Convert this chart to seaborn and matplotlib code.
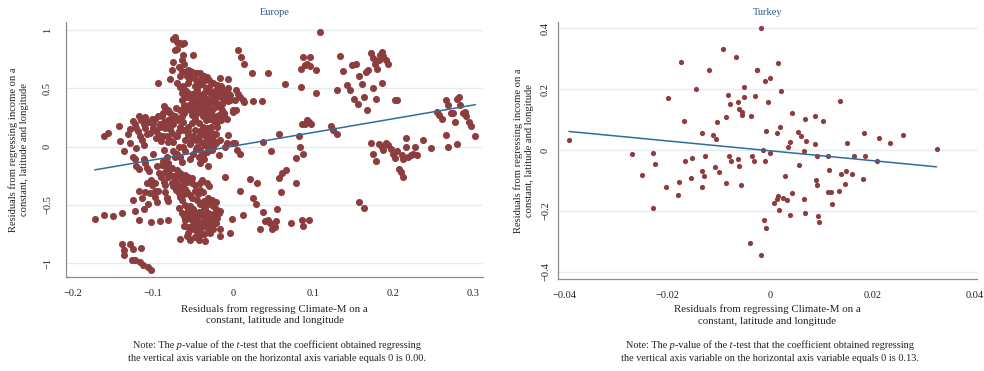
import matplotlib
matplotlib.use("Agg")
import matplotlib.pyplot as plt
from matplotlib.offsetbox import TextArea, HPacker, VPacker, AnchoredOffsetbox
import seaborn as sns
import pandas as pd

# ---------------- data ----------------
panel_titles = ["Europe", "Turkey"]

eu_pts = [
    (-0.173, -0.62), (-0.161, -0.59), (-0.150, -0.60), (-0.139, -0.57),
    (-0.161, 0.09), (-0.157, 0.12), (-0.143, 0.18), (-0.142, 0.05), (-0.136, -0.04),
    (-0.132, 0.11), (-0.129, 0.15),
    (-0.139, -0.84), (-0.137, -0.89), (-0.136, -0.93), (-0.129, -0.84), (-0.125, -0.88),
    (-0.127, -0.97), (-0.123, -0.97), (-0.115, -0.87), (-0.117, -0.99), (-0.113, -1.02),
    (-0.107, -1.03), (-0.103, -1.06),
    (-0.125, -0.46), (-0.123, -0.55), (-0.118, -0.63), (-0.118, -0.38), (-0.114, -0.44),
    (-0.111, -0.54), (-0.110, -0.39), (-0.107, -0.49), (-0.103, -0.65), (-0.098, -0.43),
    (-0.095, -0.48), (-0.092, -0.64), (-0.081, -0.63), (-0.083, -0.44), (-0.098, -0.38),
    (-0.125, 0.22), (-0.123, 0.19), (-0.121, 0.16), (-0.119, 0.13), (-0.116, 0.09),
    (-0.114, 0.06), (-0.118, 0.26), (-0.115, 0.23), (-0.112, 0.19), (-0.110, 0.16),
    (-0.108, 0.11), (-0.110, 0.25), (-0.106, 0.21), (-0.102, 0.24), (-0.100, 0.16),
    (-0.098, 0.24), (-0.092, 0.19), (-0.112, 0.01), (-0.121, -0.01), (-0.129, 0.03),
    (-0.125, -0.09), (-0.123, -0.11), (-0.121, -0.17), (-0.118, -0.19), (-0.112, -0.11),
    (-0.110, -0.14), (-0.108, -0.18), (-0.105, -0.21), (-0.103, -0.29), (-0.101, -0.33),
    (-0.100, -0.06), (-0.095, -0.17), (-0.093, -0.23), (-0.098, -0.31), (-0.094, -0.38),
    (-0.108, -0.31), (-0.104, -0.40),
    (-0.073, 0.94), (-0.075, 0.92), (-0.070, 0.90), (-0.066, 0.89), (-0.062, 0.89),
    (-0.064, 0.88), (-0.070, 0.84), (-0.073, 0.83), (-0.063, 0.79), (-0.050, 0.79),
    (-0.064, 0.74), (-0.075, 0.73), (-0.061, 0.71), (-0.076, 0.66), (-0.064, 0.65),
    (-0.060, 0.64), (-0.057, 0.66), (-0.054, 0.65), (-0.051, 0.64), (-0.048, 0.63),
    (-0.066, 0.61), (-0.079, 0.58), (-0.094, 0.55), (-0.063, 0.52), (-0.048, 0.52),
    (-0.087, 0.35), (-0.085, 0.33), (-0.082, 0.31), (-0.080, 0.30), (-0.088, 0.29),
    (-0.089, 0.26), (-0.092, 0.17), (-0.082, 0.23), (-0.078, 0.23), (-0.075, 0.19),
    (-0.085, 0.16), (-0.088, 0.09), (-0.083, 0.09), (-0.079, 0.06), (-0.081, 0.04),
    (-0.075, 0.04), (-0.070, 0.09), (-0.068, 0.13), (-0.066, 0.17), (-0.063, 0.21),
    (-0.064, 0.26), (-0.061, 0.29), (-0.058, 0.33), (-0.062, 0.36), (-0.064, 0.40),
    (-0.060, 0.43), (-0.060, 0.49),
    (-0.086, -0.03), (-0.083, -0.09), (-0.075, -0.04), (-0.073, -0.09), (-0.070, -0.06),
    (-0.066, -0.09), (-0.064, -0.13), (-0.068, 0.00), (-0.063, 0.00), (-0.060, -0.04),
    (-0.088, -0.12), (-0.089, -0.16), (-0.085, -0.17), (-0.082, -0.14), (-0.082, -0.26),
    (-0.087, -0.30), (-0.085, -0.33), (-0.079, -0.24), (-0.075, -0.25), (-0.073, -0.27),
    (-0.070, -0.24), (-0.066, -0.26), (-0.064, -0.29), (-0.077, -0.31), (-0.075, -0.34),
    (-0.071, -0.37), (-0.068, -0.40), (-0.066, -0.43), (-0.064, -0.46), (-0.062, -0.41),
    (-0.060, -0.36), (-0.058, -0.30), (-0.085, -0.39), (-0.083, -0.44), (-0.082, -0.47),
    (-0.068, -0.53), (-0.064, -0.57), (-0.062, -0.60), (-0.060, -0.63), (-0.058, -0.57),
    (-0.067, -0.79), (-0.056, -0.74), (-0.054, -0.79),
    (-0.016, 0.59), (-0.006, 0.58),
    (-0.056, 0.43), (-0.051, 0.40), (-0.045, 0.41), (-0.042, 0.44), (-0.039, 0.43),
    (-0.036, 0.40), (-0.033, 0.37), (-0.035, 0.34), (-0.031, 0.33), (-0.029, 0.31),
    (-0.058, 0.34), (-0.054, 0.31), (-0.048, 0.31), (-0.043, 0.34), (-0.041, 0.30),
    (-0.038, 0.33), (-0.035, 0.29), (-0.031, 0.27), (-0.027, 0.31), (-0.025, 0.26),
    (-0.022, 0.37), (-0.020, 0.43), (-0.018, 0.47), (-0.016, 0.46), (-0.013, 0.41),
    (-0.010, 0.40), (-0.008, 0.41), (-0.006, 0.39), (-0.004, 0.40), (0.000, 0.31),
    (0.004, 0.31), (-0.017, 0.34), (-0.014, 0.31), (-0.012, 0.29), (-0.018, 0.27),
    (-0.020, 0.26), (-0.008, 0.24), (-0.048, 0.24), (-0.051, 0.20), (-0.043, 0.20),
    (-0.056, 0.17), (-0.038, 0.17), (-0.033, 0.16), (-0.028, 0.17), (-0.020, 0.17),
    (-0.056, 0.10), (-0.050, 0.09), (-0.043, 0.09), (-0.037, 0.10), (-0.033, 0.06),
    (-0.029, 0.09), (-0.025, 0.06), (-0.021, 0.11), (-0.016, 0.06), (-0.006, 0.10),
    (-0.008, 0.03), (0.000, 0.03), (0.002, 0.03), (0.005, -0.03), (0.009, -0.06),
    (-0.010, 0.00), (-0.054, 0.02), (-0.045, 0.00), (-0.041, -0.03), (-0.037, 0.01),
    (-0.031, -0.01), (-0.025, 0.00), (-0.018, -0.07), (-0.050, -0.06), (-0.043, -0.09),
    (-0.054, -0.11), (-0.037, -0.11), (-0.031, -0.17), (-0.041, -0.14), (-0.010, -0.26),
    (0.021, -0.28), (0.030, -0.31),
    (-0.056, -0.29), (-0.051, -0.31), (-0.048, -0.33), (-0.042, -0.31), (-0.039, -0.29),
    (-0.033, -0.31), (-0.030, -0.34), (-0.041, -0.37), (-0.038, -0.39), (-0.051, -0.44),
    (-0.045, -0.46), (-0.041, -0.49), (-0.036, -0.47), (-0.031, -0.44), (-0.027, -0.46),
    (-0.054, -0.51), (-0.050, -0.54), (-0.048, -0.57), (-0.043, -0.56), (-0.039, -0.59),
    (-0.035, -0.54), (-0.031, -0.57), (-0.025, -0.51), (-0.021, -0.54), (-0.018, -0.57),
    (-0.016, -0.55), (-0.056, -0.61), (-0.051, -0.63), (-0.046, -0.64), (-0.042, -0.66),
    (-0.037, -0.63), (-0.033, -0.61), (-0.027, -0.63), (-0.021, -0.66), (-0.017, -0.71),
    (-0.016, -0.77), (-0.057, -0.69), (-0.051, -0.71), (-0.045, -0.73), (-0.041, -0.76),
    (-0.035, -0.81), (-0.031, -0.71), (-0.029, -0.74), (-0.025, -0.71), (-0.002, -0.62),
    (-0.004, -0.74), (-0.058, -0.77), (-0.054, -0.80),
    (-0.045, 0.63), (-0.041, 0.63), (-0.037, 0.61), (-0.033, 0.60), (-0.030, 0.57),
    (-0.043, 0.53), (-0.039, 0.54), (-0.025, 0.47), (-0.022, 0.49), (-0.018, 0.49),
    (-0.030, 0.51), (-0.034, 0.50), (-0.036, 0.46), (-0.027, 0.44), (-0.045, 0.49),
    (-0.025, 0.40), (-0.033, 0.41), (-0.041, 0.40),
    (-0.060, 0.33), (-0.055, 0.36), (-0.050, 0.35), (-0.046, 0.37), (-0.040, 0.36),
    (-0.036, 0.38), (-0.032, 0.35), (-0.028, 0.38), (-0.023, 0.34), (-0.019, 0.37),
    (-0.052, 0.27), (-0.046, 0.28), (-0.038, 0.26), (-0.034, 0.23), (-0.029, 0.24),
    (-0.024, 0.22), (-0.020, 0.21), (-0.015, 0.23), (-0.011, 0.26), (-0.062, 0.14),
    (-0.057, 0.13), (-0.048, 0.14), (-0.042, 0.13), (-0.036, 0.14), (-0.030, 0.13),
    (-0.026, 0.12), (-0.060, 0.06), (-0.053, 0.05), (-0.046, 0.06), (-0.040, 0.04),
    (-0.034, 0.03), (-0.028, 0.04), (-0.022, 0.03), (-0.047, -0.02), (-0.033, -0.05),
    (-0.026, -0.03), (-0.038, -0.07), (-0.064, 0.46), (-0.058, 0.47), (-0.052, 0.45),
    (-0.048, 0.46), (-0.030, 0.47), (-0.012, 0.44), (-0.006, 0.46), (-0.004, 0.44),
    (-0.014, 0.37),
    (-0.070, -0.20), (-0.067, -0.23), (-0.060, -0.24), (-0.057, -0.26), (-0.052, -0.27),
    (-0.063, -0.33), (-0.058, -0.39), (-0.054, -0.42), (-0.048, -0.38), (-0.044, -0.41),
    (-0.060, -0.50), (-0.057, -0.54), (-0.053, -0.57), (-0.049, -0.60), (-0.045, -0.61),
    (-0.041, -0.56), (-0.037, -0.52), (-0.033, -0.58), (-0.029, -0.60), (-0.025, -0.58),
    (-0.045, -0.68), (-0.040, -0.70), (-0.035, -0.67), (-0.030, -0.66), (-0.026, -0.68),
    (-0.020, -0.61), (-0.036, -0.75), (-0.048, -0.78), (-0.043, -0.80), (-0.052, -0.68),
    (-0.062, -0.68), (-0.059, -0.58), (-0.031, -0.49), (-0.022, -0.48), (-0.080, -0.20),
    (-0.077, -0.18), (-0.085, -0.22), (-0.090, -0.26), (-0.072, -0.31), (-0.069, -0.34),
    (-0.065, -0.37),
    (-0.100, 0.19), (-0.096, 0.13), (-0.093, 0.10), (-0.090, 0.05), (-0.097, 0.07),
    (-0.104, 0.12), (-0.094, 0.26), (-0.086, 0.21), (-0.083, 0.18), (-0.079, 0.15),
    (-0.076, 0.12), (-0.072, 0.09), (-0.078, 0.28), (-0.073, 0.26), (-0.069, 0.23),
    (-0.071, 0.33), (-0.066, 0.31),
    (-0.068, 0.68), (-0.058, 0.61), (-0.055, 0.58), (-0.052, 0.60), (-0.057, 0.55),
    (-0.046, 0.57), (-0.040, 0.58), (-0.035, 0.57), (-0.025, 0.55), (-0.020, 0.53),
    (-0.015, 0.52), (-0.010, 0.49), (-0.006, 0.50), (-0.070, 0.55), (-0.066, 0.51),
    (0.006, 0.83), (0.010, 0.77), (0.014, 0.71), (0.004, 0.49), (0.006, 0.45),
    (0.009, 0.43), (0.012, 0.40), (0.014, 0.38), (0.002, 0.40), (0.000, 0.30),
    (0.024, 0.63), (0.043, 0.63), (0.025, 0.39), (0.036, 0.39), (0.065, 0.54),
    (0.037, 0.04), (0.058, 0.11), (0.047, -0.04), (0.008, -0.38), (0.012, -0.59),
    (0.025, -0.44), (0.028, -0.49), (0.037, -0.56), (0.040, -0.64), (0.043, -0.63),
    (0.046, -0.66), (0.048, -0.71), (0.034, -0.71), (0.052, -0.69), (0.054, -0.64),
    (0.055, -0.54), (0.058, -0.27), (0.061, -0.23), (0.066, -0.20), (0.060, -0.39),
    (0.072, -0.66), (0.079, -0.31), (0.079, -0.10), (0.083, 0.09), (0.084, 0.00),
    (0.086, 0.19), (0.088, -0.06), (0.090, 0.19), (0.092, 0.23), (0.095, 0.21),
    (0.097, 0.19), (0.086, -0.63), (0.088, -0.68), (0.095, -0.63), (0.085, 0.51),
    (0.087, 0.77), (0.096, 0.77), (0.085, 0.67), (0.090, 0.70), (0.093, 0.71),
    (0.096, 0.69), (0.104, 0.66), (0.104, 0.46), (0.109, 0.98),
    (0.1225, 0.18), (0.125, 0.14), (0.130, 0.11), (0.130, 0.49), (0.134, 0.78),
    (0.137, 0.65), (0.142, 0.53), (0.146, 0.49), (0.149, 0.70), (0.154, 0.71),
    (0.151, 0.41), (0.156, 0.37), (0.158, 0.61), (0.161, 0.54), (0.164, 0.43),
    (0.167, 0.31), (0.166, 0.64), (0.169, 0.66), (0.172, 0.80), (0.175, 0.76),
    (0.178, 0.71), (0.180, 0.67), (0.182, 0.74), (0.184, 0.79), (0.186, 0.81),
    (0.188, 0.78), (0.191, 0.74), (0.194, 0.71), (0.175, 0.50), (0.179, 0.41),
    (0.186, 0.55), (0.158, -0.48), (0.164, -0.53), (0.173, 0.03), (0.175, -0.06),
    (0.179, -0.12), (0.183, 0.02), (0.186, 0.00), (0.188, -0.03), (0.191, 0.03),
    (0.194, 0.01), (0.197, -0.02), (0.200, -0.06), (0.203, -0.10), (0.205, -0.04),
    (0.208, -0.19), (0.210, -0.22), (0.213, -0.26), (0.2025, 0.40), (0.205, 0.40),
    (0.211, -0.07), (0.213, -0.11), (0.216, 0.00), (0.216, 0.07), (0.219, -0.09),
    (0.222, -0.07), (0.225, -0.06), (0.227, 0.00), (0.230, -0.07), (0.238, 0.06),
    (0.248, -0.01),
    (0.255, 0.30), (0.258, 0.27), (0.261, 0.24), (0.266, 0.40), (0.269, 0.36),
    (0.266, 0.10), (0.269, 0.00), (0.272, 0.29), (0.275, 0.29), (0.277, 0.21),
    (0.280, 0.02), (0.280, 0.41), (0.282, 0.43), (0.284, 0.36), (0.287, 0.29),
    (0.290, 0.30), (0.291, 0.26), (0.295, 0.21), (0.298, 0.18), (0.303, 0.09),
]
eu_x = [p[0] for p in eu_pts]
eu_y = [p[1] for p in eu_pts]
eu_fit_x = [-0.173, 0.303]
eu_fit_y = [-0.20, 0.36]

tr_pts = [
    (-0.0392, 0.032), (-0.0269, -0.012), (-0.0250, -0.082), (-0.0228, -0.010),
    (-0.0224, -0.046), (-0.0228, -0.190), (-0.0202, -0.122), (-0.0199, 0.172),
    (-0.0180, -0.148), (-0.0177, -0.104), (-0.0173, 0.288), (-0.0168, 0.094),
    (-0.0165, -0.035), (-0.0154, -0.092), (-0.0152, -0.027), (-0.0144, 0.199),
    (-0.0133, 0.057), (-0.0133, -0.068), (-0.0133, -0.122), (-0.0129, -0.085),
    (-0.0126, -0.021), (-0.0118, 0.264), (-0.0111, 0.050), (-0.0108, -0.057),
    (-0.0106, 0.037), (-0.0103, 0.092), (-0.0100, -0.073), (-0.0092, 0.331),
    (-0.0086, 0.110), (-0.0085, -0.107), (-0.0081, 0.179), (-0.0079, -0.018),
    (-0.0077, 0.150), (-0.0076, -0.037), (-0.0067, 0.305), (-0.0063, 0.159),
    (-0.0062, -0.030), (-0.0060, -0.052), (-0.0060, 0.134), (-0.0057, -0.116),
    (-0.0055, 0.115), (-0.0055, 0.126), (-0.0051, 0.174), (-0.0051, 0.207),
    (-0.0038, -0.305), (-0.0036, 0.112), (-0.0034, -0.018), (-0.0031, -0.037),
    (-0.0029, 0.178), (-0.0026, 0.264), (-0.0025, 0.261), (-0.0018, 0.401),
    (-0.0018, -0.344), (-0.0013, 0.000), (-0.0012, -0.230), (-0.0010, 0.228),
    (-0.0009, -0.037), (-0.0008, -0.256), (-0.0007, 0.064), (-0.0003, 0.157),
    (0.0000, 0.235), (0.0001, -0.011), (0.0007, -0.173), (0.0014, -0.162),
    (0.0014, 0.057), (0.0016, 0.284), (0.0016, -0.150), (0.0018, -0.198),
    (0.0019, 0.076), (0.0022, 0.194), (0.0025, -0.156), (0.0029, -0.085),
    (0.0033, -0.164), (0.0036, 0.010), (0.0040, 0.026), (0.0040, -0.213),
    (0.0043, -0.140), (0.0044, 0.123), (0.0055, 0.059), (0.0057, -0.049),
    (0.0061, 0.047), (0.0066, -0.003), (0.0066, -0.162), (0.0068, -0.205),
    (0.0069, 0.103), (0.0070, 0.030), (0.0087, 0.113), (0.0088, 0.020),
    (0.0090, -0.099), (0.0091, -0.116), (0.0092, -0.018), (0.0093, -0.217),
    (0.0096, -0.236), (0.0103, 0.094), (0.0113, -0.019), (0.0114, -0.136),
    (0.0116, -0.067), (0.0120, -0.138), (0.0122, -0.178), (0.0134, -0.133),
    (0.0136, 0.161), (0.0139, -0.080), (0.0146, -0.110), (0.0148, -0.068),
    (0.0150, 0.023), (0.0160, -0.077), (0.0164, -0.021), (0.0181, -0.094),
    (0.0183, 0.057), (0.0185, -0.020), (0.0209, -0.037), (0.0213, 0.038),
    (0.0234, 0.023), (0.0260, 0.049), (0.0325, 0.002),
]
tr_x = [p[0] for p in tr_pts]
tr_y = [p[1] for p in tr_pts]
tr_fit_x = [-0.0392, 0.0325]
tr_fit_y = [0.061, -0.055]

eu_xticks = [-0.2, -0.1, 0, 0.1, 0.2, 0.3]
eu_yticks = [-1, -0.5, 0, 0.5, 1]
tr_xticks = [-0.04, -0.02, 0, 0.02, 0.04]
tr_yticks = [-0.4, -0.2, 0, 0.2, 0.4]

x_label = "Residuals from regressing Climate-M on a\nconstant, latitude and longitude"
y_label = "Residuals from regressing income on a\nconstant, latitude and longitude"
p_values = ["0.00", "0.13"]

# ---------------- style ----------------
sns.set_theme(style="white")
plt.rcParams['font.family'] = ['Liberation Serif', 'DejaVu Serif']

DOT = "#8e3d3f"
FIT = "#2f6e9c"
GRID = "#e3edf0"
SPINE = "#8c8c8c"
TITLE = "#2d5a86"
TXT = "#222222"


def fmt(v):
    return f"{v:g}".replace("-", "\u2212")


fig = plt.figure(figsize=(9.84, 3.71), dpi=100)
W, H = 984, 371
ax1 = fig.add_axes([66 / W, 1 - 277 / H, (483 - 66) / W, (277 - 22) / H])
ax2 = fig.add_axes([557.7 / W, 1 - 279 / H, (977 - 557.7) / W, (279 - 22) / H])

panels = [
    (ax1, eu_x, eu_y, eu_fit_x, eu_fit_y, eu_xticks, eu_yticks,
     (-0.209, 0.3125), (-1.12, 1.07), 26, 6, -0.088, -0.108),
    (ax2, tr_x, tr_y, tr_fit_x, tr_fit_y, tr_xticks, tr_yticks,
     (-0.0414, 0.0404), (-0.423, 0.42), 14, 1.5, -0.057, -0.100),
]

for i, (ax, xs, ys, fx, fy, xt, yt, xl, yl, ms, ypad, ylx, xly) in enumerate(panels):
    df = pd.DataFrame({"x": xs, "y": ys})
    for v in yt:
        ax.axhline(v, color=GRID, lw=1.0, zorder=0)
    sns.scatterplot(data=df, x="x", y="y", ax=ax, color=DOT, s=ms,
                    linewidth=0, alpha=1, zorder=3)
    sns.lineplot(x=fx, y=fy, ax=ax, color=FIT, lw=1.1, zorder=4)
    ax.set_xlim(*xl)
    ax.set_ylim(*yl)
    ax.set_xticks(xt)
    ax.set_xticklabels([fmt(v) for v in xt])
    ax.set_yticks(yt)
    ax.set_yticklabels([fmt(v) for v in yt], rotation=90, va="center")
    for s in ["top", "right"]:
        ax.spines[s].set_visible(False)
    for s in ["left", "bottom"]:
        ax.spines[s].set_color(SPINE)
        ax.spines[s].set_linewidth(0.9)
    ax.tick_params(axis="both", direction="out", length=4, width=0.8,
                   color=SPINE, labelsize=7.5, labelcolor=TXT)
    ax.tick_params(axis="x", pad=5)
    ax.tick_params(axis="y", pad=ypad)
    ax.grid(False)
    ax.set_title(panel_titles[i], fontsize=7.5, color=TITLE, pad=5)
    ax.set_xlabel(x_label, fontsize=7.8, color=TXT, linespacing=1.3)
    ax.xaxis.set_label_coords(0.5, xly)
    ax.xaxis.label.set_va("top")
    ax.set_ylabel(y_label, fontsize=7.6, color=TXT, linespacing=1.3)
    ax.yaxis.set_label_coords(ylx, 0.5)

# notes with italic p and t
notes_x = [277, 770]
rp = dict(fontsize=7.4, color=TXT, family=['Liberation Serif'])
ip = dict(fontsize=7.4, color=TXT, family=['Liberation Serif'], style='italic')
for nx, pv in zip(notes_x, p_values):
    line1 = HPacker(children=[
        TextArea("Note: The", textprops=rp),
        TextArea(" p", textprops=ip),
        TextArea("-value of the", textprops=rp),
        TextArea(" t", textprops=ip),
        TextArea("-test that the coefficient obtained regressing", textprops=rp),
    ], pad=0, sep=0, align="baseline")
    line2 = TextArea("the vertical axis variable on the horizontal axis variable "
                     f"equals 0 is {pv}.", textprops=rp)
    box = VPacker(children=[line1, line2], align="center", pad=0, sep=3)
    anch = AnchoredOffsetbox(loc="upper center", child=box, pad=0, borderpad=0,
                             frameon=False, bbox_to_anchor=(nx / W, 1 - 340 / H),
                             bbox_transform=fig.transFigure)
    fig.add_artist(anch)

fig.savefig("out.png", dpi=100)
